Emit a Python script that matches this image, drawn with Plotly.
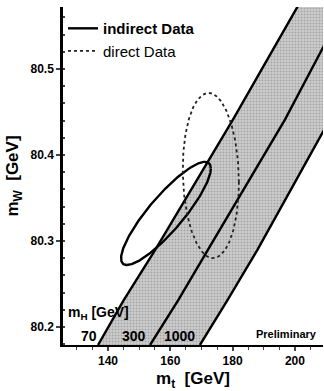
import numpy as np
import plotly.graph_objects as go

# --- data ---
# Higgs-mass lines in the (m_t, m_W) plane
mh_labels = ["70", "300", "1000"]
line70_mt = [136.8, 145.0, 155.2, 180.1, 200.6, 205.0]
line70_mw = [80.179, 80.231, 80.290, 80.441, 80.571, 80.600]
line300_mt = [153.5, 162.5, 172.1, 196.8, 209.3, 215.0]
line300_mw = [80.179, 80.231, 80.290, 80.441, 80.527, 80.565]
line1000_mt = [169.5, 178.3, 188.0, 209.3, 230.0]
line1000_mw = [80.179, 80.231, 80.290, 80.429, 80.560]

# contour parameters: centre (mt, mW), half-extents (mt, mW), correlation
indirect_center = [158.6, 80.332]
indirect_extent = [14.4, 0.060]
indirect_rho = 0.87
direct_center = [173.0, 80.376]
direct_extent = [9.0, 0.096]
direct_rho = -0.08

x_ticks = [140, 160, 180, 200]
y_ticks = [80.2, 80.3, 80.4, 80.5]


def contour(center, extent, rho, n=240):
    t = np.linspace(0, 2 * np.pi, n)
    x = center[0] + extent[0] * np.cos(t)
    y = center[1] + extent[1] * (rho * np.cos(t) + np.sqrt(1 - rho ** 2) * np.sin(t))
    return x, y


FONT = "Liberation Sans, Arial, Helvetica, sans-serif"
fig = go.Figure()

# shaded (stippled) band between mH = 70 and mH = 1000
fig.add_trace(go.Scatter(
    x=line70_mt + line1000_mt[::-1], y=line70_mw + line1000_mw[::-1],
    fill="toself", fillcolor="#c4c4c4",
    fillpattern=dict(shape=".", fgcolor="#7c7c7c", bgcolor="#cdcdcd", size=3, solidity=0.35),
    line=dict(width=0), mode="lines", showlegend=False, hoverinfo="skip"))

for mt, mw in [(line70_mt, line70_mw), (line300_mt, line300_mw), (line1000_mt, line1000_mw)]:
    fig.add_trace(go.Scatter(x=mt, y=mw, mode="lines", line=dict(color="black", width=2.4),
                             showlegend=False))

ix, iy = contour(indirect_center, indirect_extent, indirect_rho)
fig.add_trace(go.Scatter(x=ix, y=iy, mode="lines", name="<b>indirect Data</b>",
                         line=dict(color="black", width=2.4)))
dx, dy = contour(direct_center, direct_extent, direct_rho)
fig.add_trace(go.Scatter(x=dx, y=dy, mode="lines", name="direct Data",
                         line=dict(color="#222222", width=1.8, dash="dot")))

xr = [125.56, 209.0]
yr = [80.179, 80.572]

fig.update_layout(
    width=324, height=391,
    margin=dict(l=63, r=1, t=7, b=46, autoexpand=False),
    paper_bgcolor="white", plot_bgcolor="white",
    font=dict(family=FONT, color="black"),
    showlegend=True,
    legend=dict(x=0.0, y=0.985, xanchor="left", yanchor="top",
                bgcolor="rgba(0,0,0,0)", font=dict(size=15, family=FONT),
                tracegroupgap=0, itemwidth=30),
    xaxis=dict(range=xr, tickvals=x_ticks, ticks="outside", ticklen=4, tickwidth=1.5,
               automargin=False,
               minor=dict(dtick=5, tick0=0, ticks="outside", ticklen=3, tickwidth=1),
               showline=True, linewidth=2, linecolor="black", showgrid=False, zeroline=False,
               tickfont=dict(size=12, family=FONT, weight="bold"),
               title=dict(text="m<sub>t</sub>  [GeV]", font=dict(size=17, family=FONT, weight="bold"),
                          standoff=6)),
    yaxis=dict(range=yr, tickvals=y_ticks, tickformat=".1f", ticks="outside", ticklen=4, tickwidth=1.5,
               automargin=False,
               minor=dict(dtick=0.02, tick0=80.2, ticks="inside", ticklen=2, tickwidth=1.5),
               showline=True, linewidth=2.5, linecolor="black", showgrid=False, zeroline=False,
               tickfont=dict(size=12, family=FONT, weight="bold"),
               title=dict(text="m<sub>W</sub>  [GeV]", font=dict(size=17, family=FONT, weight="bold"),
                          standoff=8)),
    xaxis2=dict(range=xr, overlaying="x", side="top", anchor="y", matches="x",
                automargin=False,
                tickvals=x_ticks, ticks="inside", ticklen=6, tickwidth=1.5, showticklabels=False,
                minor=dict(dtick=5, tick0=0, ticks="inside", ticklen=3, tickwidth=1),
                showline=True, linewidth=2, linecolor="black", showgrid=False, zeroline=False),
    yaxis2=dict(range=yr, overlaying="y", side="right", anchor="x", matches="y",
                automargin=False,
                tickvals=y_ticks, ticks="inside", ticklen=6, tickwidth=1.5, showticklabels=False,
                minor=dict(dtick=0.01, tick0=80.2, ticks="inside", ticklen=3, tickwidth=1.2),
                showline=False, showgrid=False, zeroline=False),
)

ann_font = dict(size=14, family=FONT, weight="bold", color="black")
fig.add_annotation(x=126.6, y=80.216, text="m<sub>H</sub> [GeV]", showarrow=False,
                   xanchor="left", yanchor="middle", font=ann_font)
for lab, xpos in zip(mh_labels, [133.9, 148.3, 163.1]):
    fig.add_annotation(x=xpos, y=80.190, text=lab, showarrow=False,
                       xanchor="center", yanchor="middle", font=ann_font)
fig.add_annotation(x=207.6, y=80.192, text="Preliminary", showarrow=False,
                   xanchor="right", yanchor="middle",
                   font=dict(size=11, family=FONT, weight="bold", color="black"))

fig.write_html("out.html", config={"displayModeBar": False},
               post_script="document.body.style.margin='0px';document.body.style.overflow='hidden';")
